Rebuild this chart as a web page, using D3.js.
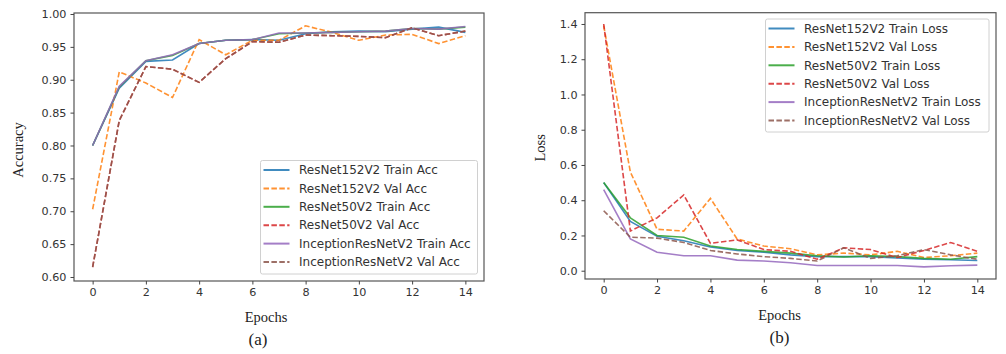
<!DOCTYPE html>
<html><head><meta charset="utf-8">
<script src="https://cdn.jsdelivr.net/npm/d3@7"></script>
<style>body{margin:0;background:#fff}svg{display:block}</style>
</head><body>
<svg id="c" width="1006" height="354"></svg>
<script>
const epochs = d3.range(0, 15);
const xTicks = [0, 2, 4, 6, 8, 10, 12, 14];
const accTicks = [0.60, 0.65, 0.70, 0.75, 0.80, 0.85, 0.90, 0.95, 1.00];
const lossTicks = [0.0, 0.2, 0.4, 0.6, 0.8, 1.0, 1.2, 1.4];

const r152TrainAcc = [0.800, 0.887, 0.928, 0.930, 0.955, 0.960, 0.961, 0.960, 0.970, 0.973, 0.974, 0.973, 0.977, 0.980, 0.972];
const r152ValAcc   = [0.703, 0.912, 0.895, 0.873, 0.961, 0.938, 0.960, 0.960, 0.982, 0.972, 0.960, 0.968, 0.969, 0.955, 0.967];
const r50TrainAcc  = [0.800, 0.889, 0.929, 0.937, 0.955, 0.960, 0.961, 0.970, 0.971, 0.972, 0.973, 0.974, 0.978, 0.977, 0.980];
const r50ValAcc    = [0.615, 0.838, 0.920, 0.916, 0.896, 0.932, 0.958, 0.957, 0.968, 0.967, 0.966, 0.964, 0.979, 0.967, 0.974];
const incTrainAcc  = [0.800, 0.890, 0.929, 0.938, 0.955, 0.960, 0.961, 0.971, 0.971, 0.972, 0.973, 0.974, 0.978, 0.977, 0.981];
const incValAcc    = [0.615, 0.838, 0.920, 0.916, 0.896, 0.932, 0.958, 0.957, 0.968, 0.967, 0.966, 0.964, 0.979, 0.967, 0.974];

const r152TrainLoss = [0.500, 0.280, 0.195, 0.170, 0.135, 0.115, 0.105, 0.090, 0.080, 0.080, 0.080, 0.072, 0.066, 0.062, 0.058];
const r152ValLoss   = [1.390, 0.560, 0.235, 0.225, 0.410, 0.180, 0.140, 0.125, 0.090, 0.100, 0.090, 0.110, 0.075, 0.085, 0.100];
const r50TrainLoss  = [0.500, 0.300, 0.200, 0.190, 0.140, 0.120, 0.110, 0.100, 0.085, 0.078, 0.085, 0.080, 0.070, 0.065, 0.080];
const r50ValLoss    = [1.400, 0.225, 0.300, 0.430, 0.155, 0.175, 0.120, 0.110, 0.065, 0.130, 0.120, 0.075, 0.115, 0.160, 0.110];
const incTrainLoss  = [0.460, 0.180, 0.105, 0.085, 0.085, 0.060, 0.055, 0.045, 0.030, 0.030, 0.030, 0.030, 0.022, 0.028, 0.032];
const incValLoss    = [0.340, 0.190, 0.185, 0.160, 0.115, 0.095, 0.080, 0.070, 0.055, 0.130, 0.070, 0.085, 0.120, 0.090, 0.065];

const accNames = ["ResNet152V2 Train Acc", "ResNet152V2 Val Acc", "ResNet50V2 Train Acc", "ResNet50V2 Val Acc", "InceptionResNetV2 Train Acc", "InceptionResNetV2 Val Acc"];
const lossNames = ["ResNet152V2 Train Loss", "ResNet152V2 Val Loss", "ResNet50V2 Train Loss", "ResNet50V2 Val Loss", "InceptionResNetV2 Train Loss", "InceptionResNetV2 Val Loss"];
const colors = ["#1f77b4", "#ff7f0e", "#2ca02c", "#d62728", "#9467bd", "#8c564b"];
const dashed = [false, true, false, true, false, true];

const svg = d3.select("#c");

function panel(o) {
  const g = svg.append("g");
  const x = d3.scaleLinear().domain([-0.7, 14.7]).range([o.x0, o.x1]);
  const y = d3.scaleLinear().domain(o.yDomain).range([o.y1, o.y0]);
  g.append("rect").attr("x", o.x0).attr("y", o.y0).attr("width", o.x1 - o.x0).attr("height", o.y1 - o.y0)
    .attr("fill", "none").attr("stroke", "#555").attr("stroke-width", 1.2);
  const ax = g.append("g").attr("transform", `translate(0,${o.y1})`)
    .call(d3.axisBottom(x).tickValues(xTicks).tickSize(3.5).tickPadding(4).tickFormat(d3.format("d")));
  const ay = g.append("g").attr("transform", `translate(${o.x0},0)`)
    .call(d3.axisLeft(y).tickValues(o.yTicks).tickSize(3.5).tickPadding(4).tickFormat(d3.format(o.fmt)));
  [ax, ay].forEach(a => {
    a.select(".domain").remove();
    a.selectAll("line").attr("stroke", "#444");
    a.selectAll("text").attr("fill", "#333").style("font-family", "DejaVu Sans, sans-serif").style("font-size", "11.2px");
  });
  const line = d3.line().x((d, i) => x(epochs[i])).y(d => y(d));
  o.series.forEach((s, k) => {
    g.append("path").datum(s).attr("d", line).attr("fill", "none")
      .attr("stroke", colors[k]).attr("stroke-width", 1.6).attr("stroke-opacity", 0.85)
      .attr("stroke-dasharray", dashed[k] ? "5.5,2.4" : null);
  });
  g.append("text").attr("x", (o.x0 + o.x1) / 2 + o.xlabDx).attr("y", o.y1 + 41).attr("text-anchor", "middle")
    .style("font-family", "Liberation Serif, serif").style("font-size", "14.5px").attr("fill", "#222").text("Epochs");
  g.append("text").attr("transform", `translate(${o.ylabX},${(o.y0 + o.y1) / 2 + o.ylabDy}) rotate(-90)`)
    .attr("text-anchor", "middle").style("font-family", "Liberation Serif, serif").style("font-size", "14.5px")
    .attr("fill", "#222").text(o.ylab);
  g.append("text").attr("x", (o.x0 + o.x1) / 2 + o.capDx).attr("y", o.y1 + 64).attr("text-anchor", "middle")
    .style("font-family", "Liberation Serif, serif").style("font-size", "17px").attr("fill", "#222").text(o.cap);
  const L = o.legend;
  const lg = g.append("g");
  lg.append("rect").attr("x", L.x).attr("y", L.y).attr("width", L.w).attr("height", L.h).attr("rx", 2)
    .attr("fill", "#fff").attr("fill-opacity", 0.85).attr("stroke", "#d0d0d0").attr("stroke-width", 1);
  o.names.forEach((n, k) => {
    const yy = L.y + 9.5 + k * 18.4;
    lg.append("line").attr("x1", L.x + 3).attr("x2", L.x + 29).attr("y1", yy).attr("y2", yy)
      .attr("stroke", colors[k]).attr("stroke-width", 2).attr("stroke-opacity", 0.85)
      .attr("stroke-dasharray", dashed[k] ? "5.5,2.4" : null);
    lg.append("text").attr("x", L.x + 38.5).attr("y", yy).attr("dy", "0.35em")
      .style("font-family", "DejaVu Sans, sans-serif").style("font-size", "12px").attr("fill", "#333").text(n);
  });
}

panel({
  x0: 74, x1: 484, y0: 13, y1: 281, yDomain: [0.5939, 1.0015], yTicks: accTicks, fmt: ".2f",
  series: [r152TrainAcc, r152ValAcc, r50TrainAcc, r50ValAcc, incTrainAcc, incValAcc],
  names: accNames, ylab: "Accuracy", ylabX: 23, ylabDy: 3, xlabDx: -13, capDx: -21, cap: "(a)",
  legend: { x: 260.5, y: 160.5, w: 217, h: 113.5 }
});
panel({
  x0: 585, x1: 996, y0: 12.7, y1: 279, yDomain: [-0.047, 1.464], yTicks: lossTicks, fmt: ".1f",
  series: [r152TrainLoss, r152ValLoss, r50TrainLoss, r50ValLoss, incTrainLoss, incValLoss],
  names: lossNames, ylab: "Loss", ylabX: 545, ylabDy: 2, xlabDx: -11, capDx: -11, cap: "(b)",
  legend: { x: 765.5, y: 19, w: 223.5, h: 113 }
});
</script>
</body></html>
